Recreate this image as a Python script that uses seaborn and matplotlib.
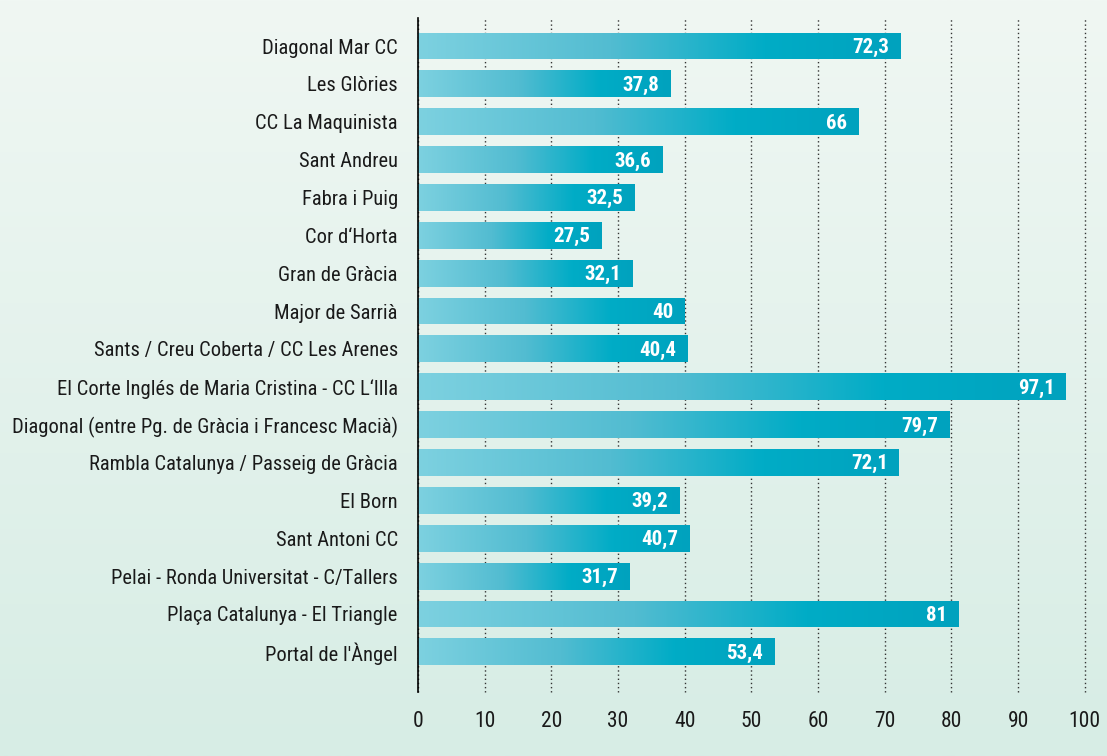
import numpy as np
import pandas as pd
import matplotlib.pyplot as plt
import seaborn as sns
from matplotlib import font_manager as fm
from matplotlib.colors import LinearSegmentedColormap

# Data (top to bottom)
centres = [
    "Diagonal Mar CC", "Les Glòries", "CC La Maquinista", "Sant Andreu",
    "Fabra i Puig", "Cor d‘Horta", "Gran de Gràcia", "Major de Sarrià",
    "Sants / Creu Coberta / CC Les Arenes",
    "El Corte Inglés de Maria Cristina - CC L‘Illa",
    "Diagonal (entre Pg. de Gràcia i Francesc Macià)",
    "Rambla Catalunya / Passeig de Gràcia", "El Born", "Sant Antoni CC",
    "Pelai - Ronda Universitat - C/Tallers", "Plaça Catalunya - El Triangle",
    "Portal de l'Àngel",
]
values = [72.3, 37.8, 66, 36.6, 32.5, 27.5, 32.1, 40, 40.4, 97.1, 79.7,
          72.1, 39.2, 40.7, 31.7, 81, 53.4]
x_ticks = [0, 10, 20, 30, 40, 50, 60, 70, 80, 90, 100]

df = pd.DataFrame({"Centre": centres, "Valor": values})

# pick a condensed font if one is around
available = {f.name for f in fm.fontManager.ttflist}
font = "DejaVu Sans"
for cand in ["Roboto Condensed", "Barlow Semi Condensed", "Liberation Sans Narrow"]:
    if cand in available:
        font = cand
        break

sns.set_theme(style="white")
plt.rcParams["font.family"] = [font, "DejaVu Sans"]

fig = plt.figure(figsize=(11.07, 7.56), dpi=100)

# background gradient
bg = fig.add_axes([0, 0, 1, 1], zorder=-10)
bg_cmap = LinearSegmentedColormap.from_list("bg", ["#f0f7f3", "#d7ede5"])
bg.imshow(np.linspace(0, 1, 256).reshape(-1, 1), aspect="auto", cmap=bg_cmap,
          extent=[0, 1, 0, 1], origin="upper")
bg.axis("off")

ax = fig.add_axes([0.3776, 0.0847, 0.6024, 0.8915])
ax.patch.set_alpha(0)

sns.barplot(data=df, x="Valor", y="Centre", color="#00aac5", width=0.71,
            ax=ax, zorder=3)

# gradient fill for each bar
bar_cmap = LinearSegmentedColormap.from_list(
    "bar", [(0, "#7dd1e0"), (0.4, "#52bcd1"), (0.72, "#00acc6"), (1, "#00a2be")])
grad = np.linspace(0, 1, 256).reshape(1, -1)
for p in ax.patches:
    x0, y0 = p.get_x(), p.get_y()
    w, h = p.get_width(), p.get_height()
    im = ax.imshow(grad, aspect="auto", cmap=bar_cmap,
                   extent=[x0, x0 + w, y0 + h, y0], zorder=4)
    im.set_clip_path(p)
    p.set_edgecolor("none")

ax.set_xlim(0, 100)
ax.set_ylim(17.06, -0.74)
ax.set_xticks(x_ticks)
ax.set_xlabel("")
ax.set_ylabel("")

for i, v in enumerate(values):
    txt = f"{v:g}".replace(".", ",")
    ax.annotate(txt, (v, i), xytext=(-8, -1), textcoords="offset points",
                ha="right", va="center", color="white", fontsize=15,
                fontweight="bold", zorder=6)

ax.grid(axis="x", color="#333333", linestyle=(0, (1, 2)), linewidth=1)
for gl in ax.get_xgridlines():
    gl.set_clip_on(False)
ax.set_axisbelow(True)
for s in ["top", "right", "bottom"]:
    ax.spines[s].set_visible(False)
ax.spines["left"].set_color("black")
ax.spines["left"].set_linewidth(1.2)
ax.spines["left"].set_zorder(7)
ax.tick_params(axis="y", length=0, labelsize=14.8, colors="#1a1a1a", pad=14.5)
ax.tick_params(axis="x", length=0, labelsize=15.5, colors="#1a1a1a", pad=14)

fig.savefig("out.png", dpi=100)
